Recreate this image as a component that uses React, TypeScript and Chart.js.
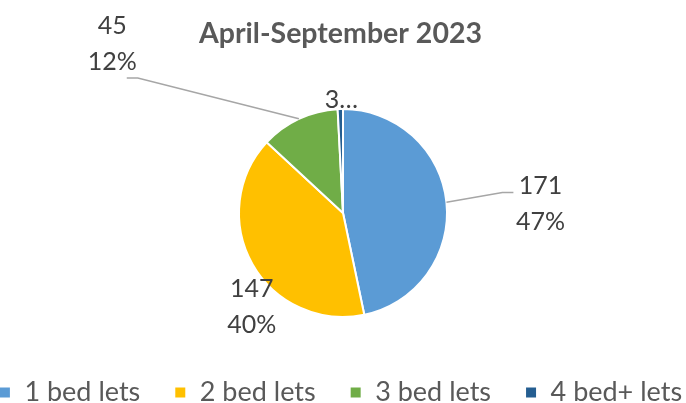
import React, { useEffect, useRef } from "react";
import { Chart, registerables } from "chart.js";

Chart.register(...registerables);

const chartTitle = "April-September 2023";
const categories = ["1 bed lets", "2 bed lets", "3 bed lets", "4 bed+ lets"];
const lets = [171, 147, 45, 3];
const sliceColors = ["#5B9BD5", "#FFC000", "#70AD47", "#255E91"];

// label placement per slice (style only): radial distance as multiple of radius,
// angular shift in degrees, optional leader line offsets relative to label centre
const labelPlacement = [
  { dist: 1.9, shift: 3.3, leader: { elbow: [-38, -11.5], end: [-27, -11.5] }, truncate: false },
  { dist: 1.26, shift: -16.3, leader: null, truncate: false },
  { dist: 2.75, shift: -28.7, leader: { elbow: [25.5, 34], end: [14.5, 34] }, truncate: false },
  { dist: 1.087, shift: 0.7, leader: null, truncate: true },
];

const FONT = "Lato, 'Open Sans', sans-serif";

const sliceLabelPlugin = {
  id: "sliceLabels",
  afterDatasetsDraw(chart: any) {
    const ctx = chart.ctx as CanvasRenderingContext2D;
    const meta = chart.getDatasetMeta(0);
    const data = chart.data.datasets[0].data as number[];
    const total = data.reduce((a, b) => a + b, 0);
    ctx.save();
    meta.data.forEach((arc: any, i: number) => {
      const p = arc.getProps(["x", "y", "startAngle", "endAngle", "outerRadius"], true);
      const mid = (p.startAngle + p.endAngle) / 2;
      const pl = labelPlacement[i];
      const a = mid + (pl.shift * Math.PI) / 180;
      const cx = p.x + Math.cos(a) * p.outerRadius * pl.dist;
      const cy = p.y + Math.sin(a) * p.outerRadius * pl.dist;
      const pct = Math.round((data[i] / total) * 100) + "%";
      let lines = [String(data[i]), pct];
      if (pl.truncate) lines = [String(data[i]).slice(0, 1) + "\u2026"];
      if (pl.leader) {
        ctx.beginPath();
        ctx.strokeStyle = "#A6A6A6";
        ctx.lineWidth = 1.5;
        ctx.moveTo(p.x + Math.cos(mid) * p.outerRadius, p.y + Math.sin(mid) * p.outerRadius);
        ctx.lineTo(cx + pl.leader.elbow[0], cy + pl.leader.elbow[1]);
        ctx.lineTo(cx + pl.leader.end[0], cy + pl.leader.end[1]);
        ctx.stroke();
      }
      ctx.fillStyle = "#404040";
      ctx.font = `25px ${FONT}`;
      ctx.textAlign = "center";
      ctx.textBaseline = "middle";
      const lh = 36.5;
      lines.forEach((t, j) => {
        ctx.fillText(t, cx, cy + (j - (lines.length - 1) / 2) * lh);
      });
    });
    ctx.restore();
  },
};

export default function App() {
  const ref = useRef<HTMLCanvasElement | null>(null);
  useEffect(() => {
    if (!ref.current) return;
    const chart = new Chart(ref.current, {
      type: "pie",
      data: {
        labels: categories,
        datasets: [
          {
            data: lets,
            backgroundColor: sliceColors,
            borderColor: "#ffffff",
            borderWidth: 2,
            radius: 104,
          } as any,
        ],
      },
      options: {
        animation: false,
        responsive: false,
        layout: { padding: { left: -60, right: -55, top: 0, bottom: -13 } },
        plugins: {
          title: {
            display: true,
            text: chartTitle,
            color: "#595959",
            font: { family: FONT, size: 28.5, weight: "bold", lineHeight: 1.2 },
            padding: { top: 17.2, bottom: 29.6 },
          },
          legend: {
            position: "bottom",
            labels: {
              color: "#595959",
              font: { family: FONT, size: 27 },
              boxWidth: 12,
              boxHeight: 12,
              padding: 34,
            },
          },
          tooltip: { enabled: false },
        },
      } as any,
      plugins: [sliceLabelPlugin],
    });
    return () => chart.destroy();
  }, []);
  return (
    <div style={{ position: "absolute", left: 0, top: 0, width: 686, height: 403, background: "#fff" }}>
      <canvas ref={ref} width={686} height={403} style={{ display: "block" }} />
    </div>
  );
}
